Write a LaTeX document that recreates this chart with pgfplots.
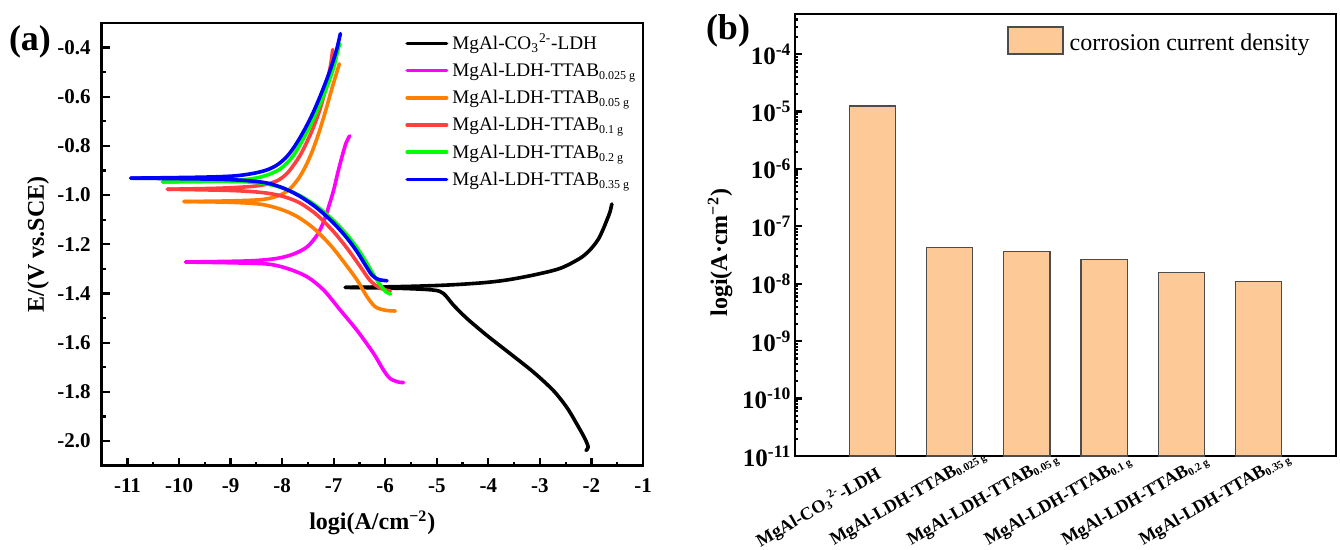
\documentclass[border=0pt]{standalone}
\usepackage{pgfplots}
\pgfplotsset{compat=1.18}
\usepackage{fontspec}
\setmainfont{Liberation Serif}

\definecolor{cMag}{RGB}{255,0,255}
\definecolor{cOra}{RGB}{255,128,0}
\definecolor{cRed}{RGB}{255,64,64}
\definecolor{cGre}{RGB}{0,255,0}
\definecolor{cBlu}{RGB}{0,0,255}
\definecolor{cBar}{RGB}{253,201,151}
\newcommand{\sub}[1]{\textsubscript{\fontsize{6}{7}\selectfont #1}}
\newcommand{\subs}[1]{\textsubscript{\fontsize{5.5}{6}\selectfont #1}}

\begin{document}
\begin{tikzpicture}
\path[use as bounding box] (0,0) rectangle (670pt,275pt);

% ---------------- (a) ----------------
\begin{axis}[
  at={(50.85pt,42.15pt)}, anchor=south west,
  width=270.65pt, height=221.35pt, scale only axis,
  xmin=-11.5, xmax=-1, ymin=-2.1, ymax=-0.3,
  xtick={-11,-10,...,-1},
  ytick={-2,-1.8,-1.6,-1.4,-1.2,-1,-0.8,-0.6,-0.4},
  minor x tick num=1, minor y tick num=1,
  xtick pos=bottom, ytick pos=left, tick align=inside,
  major tick length=4pt, minor tick length=2pt,
  tick style={black, line width=1.1pt},
  axis line style={line width=1.3pt},
  /pgf/number format/assume math mode=true,
  ticklabel style={font=\fontsize{10.5}{12}\selectfont\bfseries},
  yticklabel style={/pgf/number format/fixed, /pgf/number format/fixed zerofill, /pgf/number format/precision=1, xshift=-2pt},
  xticklabel style={yshift=-3pt},
  xlabel={logi(A/cm\textsuperscript{−2})},
  ylabel={E/(V vs.SCE)},
  label style={font=\fontsize{12}{14}\selectfont\bfseries},
  xlabel style={at={(axis description cs:0.5,-0.1288)}, anchor=center},
  ylabel style={at={(axis description cs:-0.1177,0.5)}, anchor=center},
  legend style={at={(0.5603,0.982)}, anchor=north west, draw=none, fill=none,
    inner sep=0pt, font=\fontsize{9.6}{11}\selectfont,
    cells={anchor=base west},
    nodes={inner xsep=2pt, inner ysep=0pt, text height=9pt, text depth=4.6pt},
    row sep=0pt},
  legend image code/.code={\draw[#1, line width=1.8pt, line cap=round] (0.9pt,3pt) -- (20.6pt,3pt);},
  every axis plot/.append style={line width=1.8pt, line cap=round, line join=round, smooth},
]
% black
\addplot[black] coordinates {(-6.773,-1.375) (-6.032,-1.373) (-5.385,-1.370) (-4.741,-1.365) (-4.096,-1.356) (-3.643,-1.345) (-3.128,-1.325) (-2.611,-1.298) (-2.224,-1.257) (-2.030,-1.223) (-1.875,-1.182) (-1.780,-1.142) (-1.700,-1.101) (-1.640,-1.068) (-1.605,-1.036)};
\addlegendentry{MgAl-CO\textsubscript{3}\textsuperscript{2-}-LDH}
\addplot[black, forget plot] coordinates {(-6.773,-1.375) (-5.709,-1.379) (-5.064,-1.386) (-4.870,-1.400) (-4.677,-1.447) (-4.418,-1.501) (-4.030,-1.570) (-3.579,-1.644) (-3.128,-1.719) (-2.741,-1.794) (-2.481,-1.862) (-2.288,-1.929) (-2.127,-1.990) (-2.063,-2.025) (-2.107,-2.038)};
% magenta
\addplot[cMag] coordinates {(-9.871,-1.272) (-9.581,-1.271) (-8.613,-1.267) (-8.096,-1.257) (-7.774,-1.239) (-7.515,-1.210) (-7.321,-1.162) (-7.194,-1.108) (-7.097,-1.047) (-7.000,-0.979) (-6.923,-0.911) (-6.838,-0.843) (-6.760,-0.788) (-6.690,-0.759)};
\addlegendentry{MgAl-LDH-TTAB\sub{0.025 g}}
\addplot[cMag, forget plot] coordinates {(-9.871,-1.272) (-9.000,-1.275) (-8.289,-1.280) (-7.902,-1.298) (-7.515,-1.332) (-7.194,-1.386) (-6.870,-1.468) (-6.547,-1.550) (-6.225,-1.644) (-6.032,-1.712) (-5.902,-1.746) (-5.742,-1.760) (-5.645,-1.762)};
% orange
\addplot[cOra] coordinates {(-9.904,-1.026) (-8.936,-1.023) (-8.355,-1.017) (-8.032,-0.999) (-7.838,-0.972) (-7.678,-0.931) (-7.548,-0.884) (-7.418,-0.823) (-7.290,-0.748) (-7.161,-0.660) (-7.031,-0.564) (-6.934,-0.497) (-6.890,-0.466)};
\addlegendentry{MgAl-LDH-TTAB\sub{0.05 g}}
\addplot[cOra, forget plot] coordinates {(-9.904,-1.026) (-9.000,-1.029) (-8.419,-1.037) (-8.032,-1.057) (-7.709,-1.087) (-7.387,-1.135) (-7.064,-1.203) (-6.806,-1.271) (-6.547,-1.345) (-6.353,-1.413) (-6.193,-1.454) (-6.000,-1.468) (-5.805,-1.471)};
% red
\addplot[cRed] coordinates {(-10.226,-0.976) (-9.258,-0.972) (-8.613,-0.965) (-8.289,-0.955) (-8.065,-0.938) (-7.902,-0.911) (-7.774,-0.877) (-7.645,-0.836) (-7.515,-0.782) (-7.387,-0.721) (-7.258,-0.646) (-7.161,-0.571) (-7.064,-0.476) (-7.019,-0.408)};
\addlegendentry{MgAl-LDH-TTAB\sub{0.1 g}}
\addplot[cRed, forget plot] coordinates {(-10.226,-0.976) (-9.000,-0.981) (-8.355,-0.990) (-7.968,-1.006) (-7.645,-1.033) (-7.321,-1.081) (-7.000,-1.149) (-6.740,-1.216) (-6.483,-1.291) (-6.290,-1.348) (-6.096,-1.378) (-5.902,-1.390)};
% green
\addplot[cGre] coordinates {(-10.32,-0.946) (-9.50,-0.944) (-8.90,-0.940) (-8.50,-0.930) (-8.25,-0.915) (-8.05,-0.895) (-7.89,-0.866) (-7.76,-0.832) (-7.64,-0.790) (-7.51,-0.740) (-7.38,-0.684) (-7.25,-0.622) (-7.12,-0.553) (-7.00,-0.480) (-6.91,-0.405) (-6.88,-0.385)};
\addlegendentry{MgAl-LDH-TTAB\sub{0.2 g}}
\addplot[cGre, forget plot] coordinates {(-10.32,-0.946) (-9.30,-0.944) (-8.68,-0.946) (-8.28,-0.955) (-7.95,-0.974) (-7.62,-1.006) (-7.28,-1.053) (-6.95,-1.114) (-6.69,-1.175) (-6.49,-1.232) (-6.32,-1.290) (-6.18,-1.340) (-6.06,-1.375) (-5.98,-1.394) (-5.90,-1.402)};
% blue
\addplot[cBlu] coordinates {(-10.936,-0.931) (-9.581,-0.927) (-8.936,-0.922) (-8.549,-0.911) (-8.289,-0.897) (-8.096,-0.877) (-7.935,-0.849) (-7.805,-0.816) (-7.678,-0.775) (-7.548,-0.727) (-7.418,-0.673) (-7.290,-0.612) (-7.161,-0.544) (-7.031,-0.469) (-6.934,-0.401) (-6.870,-0.343)};
\addlegendentry{MgAl-LDH-TTAB\sub{0.35 g}}
\addplot[cBlu, forget plot] coordinates {(-10.936,-0.931) (-9.323,-0.935) (-8.677,-0.941) (-8.289,-0.951) (-7.968,-0.972) (-7.645,-1.006) (-7.321,-1.053) (-7.000,-1.114) (-6.740,-1.175) (-6.547,-1.230) (-6.386,-1.284) (-6.257,-1.325) (-6.129,-1.343) (-5.966,-1.348)};
\end{axis}

% ---------------- (b) ----------------
\begin{axis}[
  at={(397.5pt,47pt)}, anchor=south west,
  width=270.5pt, height=221pt, scale only axis,
  ymode=log, ymin=1e-11, ymax=5e-4, log origin=infty,
  xmin=0, xmax=7,
  xtick={1,2,3,4,5,6},
  xticklabels={MgAl-CO\textsubscript{3}\textsuperscript{2-}-LDH,
    MgAl-LDH-TTAB\rlap{\subs{0.025 g}},
    MgAl-LDH-TTAB\rlap{\subs{0.05 g}},
    MgAl-LDH-TTAB\rlap{\subs{0.1 g}},
    MgAl-LDH-TTAB\rlap{\subs{0.2 g}},
    MgAl-LDH-TTAB\rlap{\subs{0.35 g}}},
  xtick style={draw=none},
  xtick pos=bottom,
  ytick={1e-11,1e-10,1e-9,1e-8,1e-7,1e-6,1e-5,1e-4},
  yticklabels={10\textsuperscript{-11},10\textsuperscript{-10},10\textsuperscript{-9},10\textsuperscript{-8},10\textsuperscript{-7},10\textsuperscript{-6},10\textsuperscript{-5},10\textsuperscript{-4}},
  minor ytick={2e-11,3e-11,4e-11,5e-11,6e-11,7e-11,8e-11,9e-11,
    2e-10,3e-10,4e-10,5e-10,6e-10,7e-10,8e-10,9e-10,
    2e-9,3e-9,4e-9,5e-9,6e-9,7e-9,8e-9,9e-9,
    2e-8,3e-8,4e-8,5e-8,6e-8,7e-8,8e-8,9e-8,
    2e-7,3e-7,4e-7,5e-7,6e-7,7e-7,8e-7,9e-7,
    2e-6,3e-6,4e-6,5e-6,6e-6,7e-6,8e-6,9e-6,
    2e-5,3e-5,4e-5,5e-5,6e-5,7e-5,8e-5,9e-5,
    2e-4,3e-4,4e-4},
  ytick pos=left, tick align=inside,
  major tick length=3.5pt, minor tick length=1.7pt,
  ytick style={black, line width=1.1pt},
  axis line style={line width=1.3pt},
  yticklabel style={font=\fontsize{12.5}{14}\selectfont\bfseries, xshift=1.7pt},
  xticklabel style={font=\fontsize{9}{10}\selectfont\bfseries, inner sep=0pt, xshift=1pt, yshift=-3.5pt, rotate=30, anchor=north east},
  ylabel={logi(A·cm\textsuperscript{−2})},
  ylabel style={font=\fontsize{12}{14}\selectfont\bfseries, at={(axis description cs:-0.1386,0.46)}, anchor=center},
  legend style={at={(0.392,0.94)}, anchor=west, draw=none, fill=none,
    inner sep=0pt, font=\fontsize{12}{14}\selectfont,
    cells={anchor=base west}, nodes={inner xsep=3pt, inner ysep=0pt}},
  legend image code/.code={\draw[#1] (0pt,-2pt) rectangle (27.5pt,11.5pt);},
]
\addplot[ybar, bar width=0.6, fill=cBar, draw=black!70, line width=0.6pt]
  coordinates {(1,1.25e-5) (2,4.33e-8) (3,3.70e-8) (4,2.65e-8) (5,1.55e-8) (6,1.10e-8)};
\addlegendentry{corrosion current density}
\end{axis}

\node[font=\fontsize{18}{20}\selectfont\bfseries] at (15pt,254pt) {(a)};
\node[font=\fontsize{18}{20}\selectfont\bfseries] at (364pt,259.5pt) {(b)};
\end{tikzpicture}
\end{document}
